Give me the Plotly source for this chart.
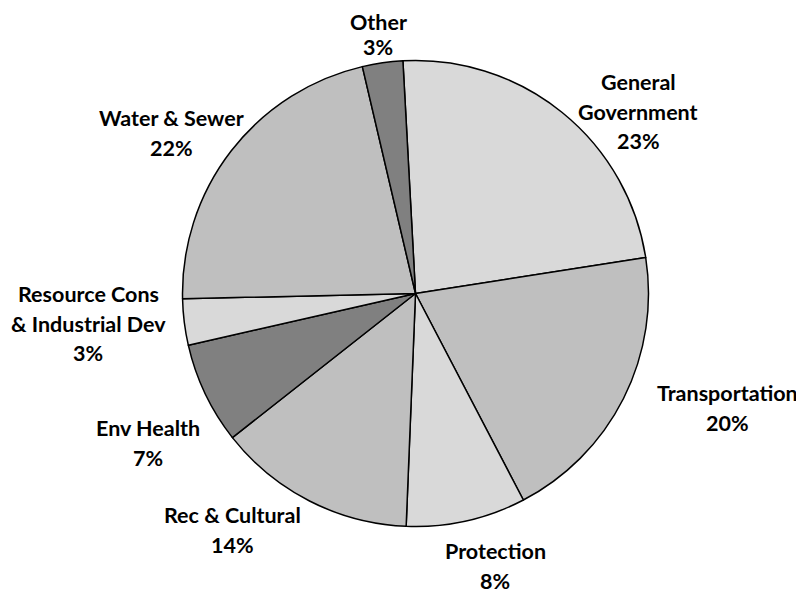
import plotly.graph_objects as go

categories = ["General Government", "Transportation", "Protection", "Rec & Cultural",
              "Env Health", "Resource Cons & Industrial Dev", "Water & Sewer", "Other"]
values = [23.4, 19.8, 8.3, 13.75, 7.05, 3.2, 21.7, 2.8]
colors = ["#d9d9d9", "#bfbfbf", "#d9d9d9", "#bfbfbf", "#808080", "#d9d9d9", "#bfbfbf", "#808080"]

# label line breaks and placement (page pixel coords of first-line centres, top-left origin)
label_lines = [["General", "Government"], ["Transportation"], ["Protection"], ["Rec & Cultural"],
               ["Env Health"], ["Resource Cons", "& Industrial Dev"], ["Water & Sewer"], ["Other"]]
label_pos = [(638, 82), (727, 393), (495, 551), (232, 515), (148, 428), (88, 294), (171, 118), (378, 22)]
line_gaps = [29.5, 29.5, 29.5, 29.5, 29.5, 29.5, 29.5, 25]

PAGE_MARGIN = 8  # browser body margin
W, H = 804, 594


def fx(px):
    return (px - PAGE_MARGIN) / W


def fy(py):
    return 1 - (py - PAGE_MARGIN) / H


cx, cy, r = 415.5, 293.5, 233
fig = go.Figure(go.Pie(
    labels=categories, values=values, sort=False, direction="clockwise", rotation=-3.1,
    marker=dict(colors=colors, line=dict(color="black", width=1.5)),
    textinfo="none", hoverinfo="label+percent", showlegend=False,
    domain=dict(x=[fx(cx - r), fx(cx + r)], y=[fy(cy + r), fy(cy - r)]),
))

total = sum(values)
annotations = []
for lines, (px, py), gap, v in zip(label_lines, label_pos, line_gaps, values):
    all_lines = lines + [f"{round(v / total * 100)}%"]
    for i, t in enumerate(all_lines):
        annotations.append(dict(
            x=fx(px), y=fy(py + i * gap), xref="paper", yref="paper",
            text=f"<b>{t}</b>", showarrow=False, xanchor="center", yanchor="middle",
            font=dict(family="Lato", size=21.5, color="black"),
        ))

fig.update_layout(width=W, height=H, margin=dict(l=0, r=0, t=0, b=0),
                  paper_bgcolor="white", plot_bgcolor="white", annotations=annotations)
fig.write_html("out.html")
